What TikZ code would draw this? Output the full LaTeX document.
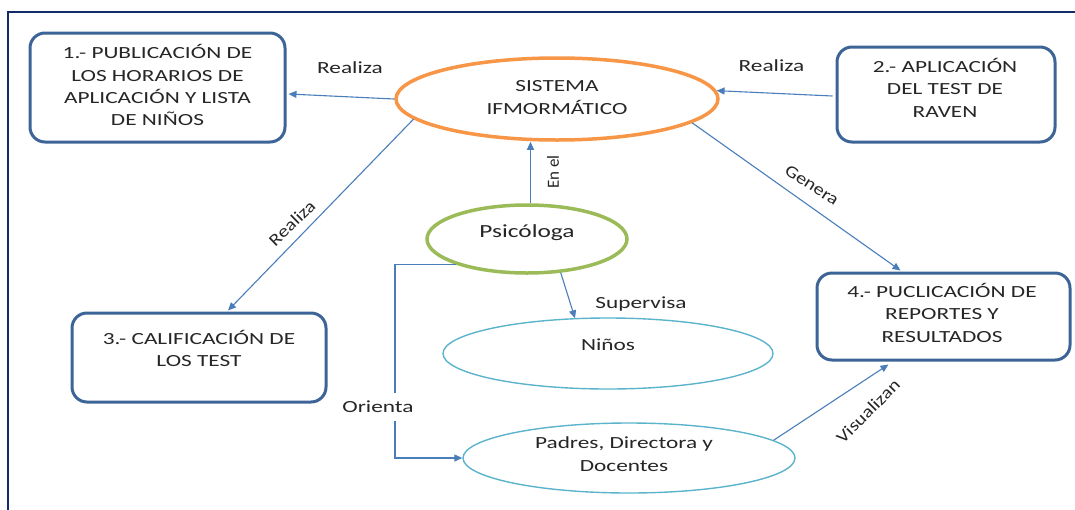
\documentclass[tikz,border=0pt]{standalone}
\usepackage{fontspec}
\setmainfont{Carlito}[FakeStretch=1.37]
\newfontfamily\slantfont{Carlito}[FakeStretch=1.2]
\newfontfamily\uprightfont{Carlito}
\usetikzlibrary{arrows.meta,shapes.geometric,calc}

\definecolor{ink}{HTML}{262626}
\definecolor{boxc}{HTML}{3C6496}
\definecolor{framec}{HTML}{112B6B}
\definecolor{linkc}{HTML}{4A7EBB}
\definecolor{orangec}{HTML}{F79646}
\definecolor{greenc}{HTML}{9BBB59}
\definecolor{tealc}{HTML}{5BB4CB}

\begin{document}
\begin{tikzpicture}[x=1pt,y=-1pt,
  every node/.style={inner sep=0pt, text=ink},
  txt/.style={font=\fontsize{17}{22.3}\selectfont, align=center},
  diag/.style={font=\slantfont\fontsize{17}{22.3}\selectfont},
  vert/.style={font=\uprightfont\fontsize{17}{22.3}\selectfont, rotate=90},
  task/.style={rectangle, draw=boxc, line width=3pt, rounded corners=15pt},
  bubble/.style={ellipse, inner sep=0pt},
  conn/.style={draw=linkc, line width=1.1pt, -{Triangle[length=8pt,width=7pt]}},
]
\useasboundingbox (0,0) rectangle (1075,509);
\fill[white] (0,0) rectangle (1075,509);

% outer frame (top and left edges)
\draw[framec, line width=2.5pt] (8,515) -- (8,12) -- (1080,12);

% task boxes
\node[task, minimum width=255pt, minimum height=109pt] (b1) at (157.5,87.5) {};
\node[task, minimum width=218pt, minimum height=95pt]  (b2) at (946,94.5) {};
\node[task, minimum width=254pt, minimum height=89pt]  (b3) at (199,357.5) {};
\node[task, minimum width=253pt, minimum height=87pt]  (b4) at (943.5,316.5) {};

\node[txt] (t1) at (157.5,85.2) {1.- PUBLICACIÓN DE\\LOS HORARIOS DE\\APLICACIÓN Y LISTA\\DE NIÑOS};
\node[txt] (t2) at (945,87.7) {2.- APLICACIÓN\\DEL TEST DE\\RAVEN};
\node[txt] (t3) at (199,348.2) {3.- CALIFICACIÓN DE\\LOS TEST};
\node[txt] (t4) at (942,312.7) {4.- PUCLICACIÓN DE\\REPORTES Y\\RESULTADOS};

% ellipses
\node[bubble, draw=orangec, line width=3.5pt, minimum width=322pt, minimum height=82pt] (sis) at (557,99) {};
\node[bubble, draw=greenc, line width=3.5pt, minimum width=200pt, minimum height=68pt] (psi) at (527,239) {};
\node[bubble, draw=tealc, line width=1.4pt, minimum width=330pt, minimum height=71pt] (nin) at (608,353.5) {};
\node[bubble, draw=tealc, line width=1.4pt, minimum width=332pt, minimum height=70pt] (pad) at (629,458) {};

\node[txt] (tsis) at (557,97.4) {SISTEMA\\IFMORMÁTICO};
\node[txt, font=\fontsize{18.5}{22}\selectfont] (tpsi) at (527,233) {Psicóloga};
\node[txt] (tnin) at (608,344.5) {Niños};
\node[txt, font=\fontsize{17}{23.5}\selectfont] (tpad) at (624,454) {Padres, Directora y\\Docentes};

% connectors
\draw[conn] (sis.west) -- ($(b1.east)+(2,6.5)$);
\draw[conn] ($(b2.west)+(-3,1.5)$) -- (sis.3);
\draw[conn] (sis.188) -- ($(b3.north)+(29,-1)$);
\draw[conn] (sis.-10) -- ($(b4.north)+(-43,-1)$);
\coordinate (enA) at ($(psi.north)+(3.5,0)$);
\draw[conn] (enA) -- (enA |- sis.south);
\draw[conn] (psi.-45) -- ($(nin.north)+(-33,1)$);
\coordinate (orA) at (395,265);
\draw[conn] (psi.200) -- (psi.200 -| orA) -- (orA |- pad.west) -- (pad.west);
\draw[conn] (pad.7) -- ($(b4.south)+(-55,3)$);

% connector labels
\node[txt] (lr1) at (350,67.6) {Realiza};
\node[txt] (lr2) at (771.5,66) {Realiza};
\node[diag, rotate=44] (lr3) at (292,223) {Realiza};
\node[diag, rotate=-33] (lgen) at (812,185) {Genera};
\node[vert] (lenel) at (553,172) {En el};
\node[txt] (lsup) at (641,304) {Supervisa};
\node[txt, fill=white, inner ysep=8pt, inner xsep=2pt] (lori) at (378,407) {Orienta};
\node[diag, rotate=45] (lvis) at (868,411) {Visualizan};
\end{tikzpicture}
\end{document}
